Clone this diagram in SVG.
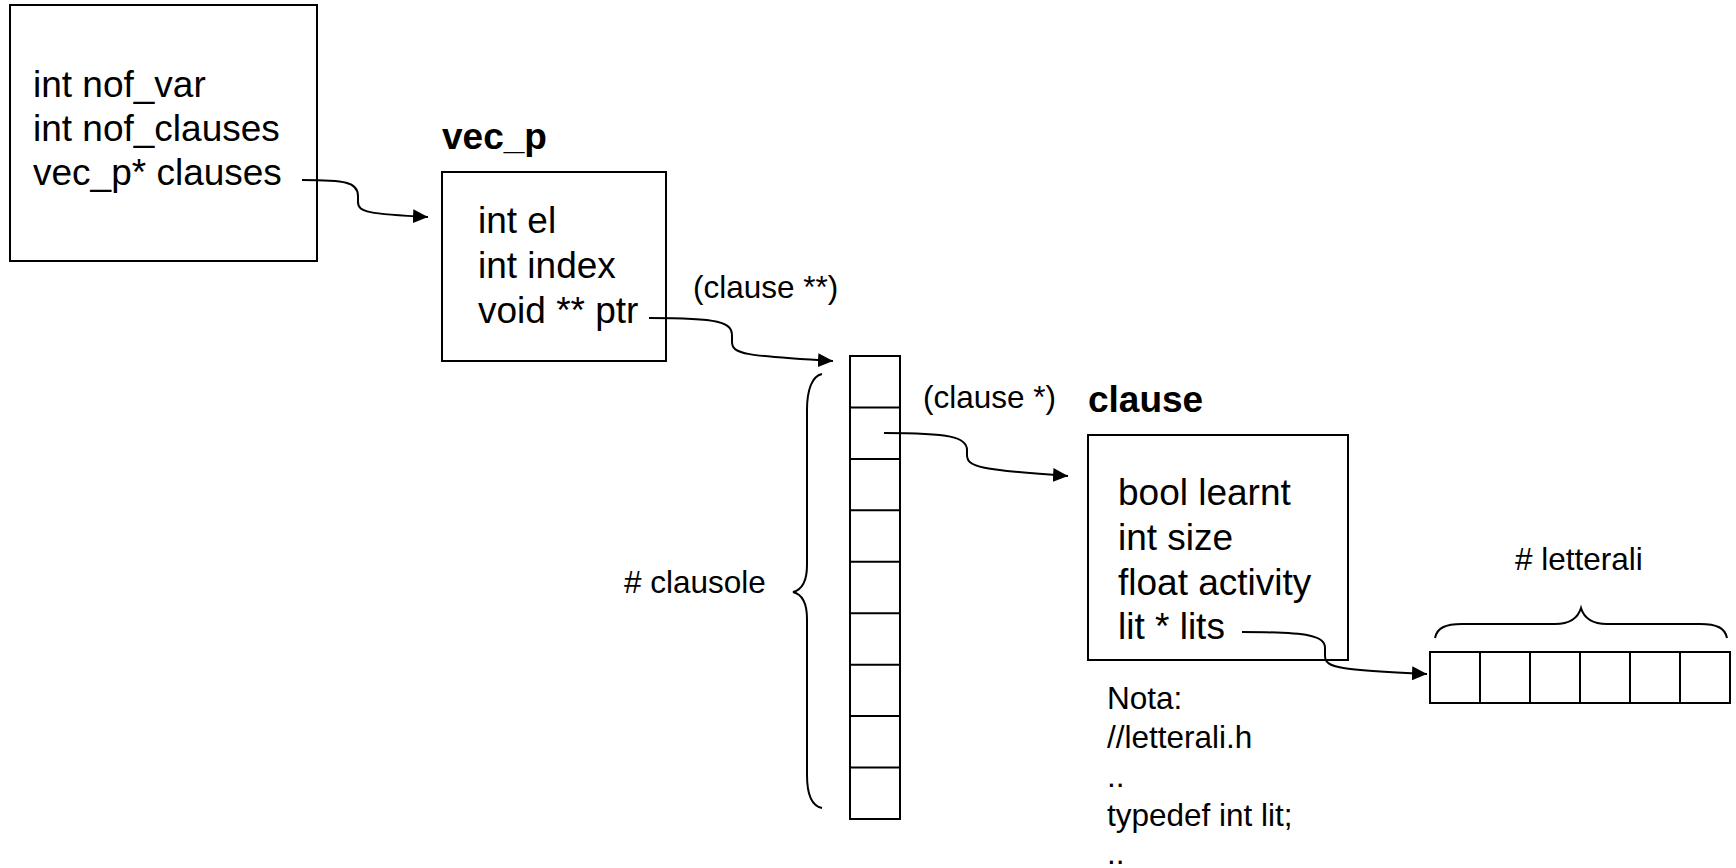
<svg xmlns="http://www.w3.org/2000/svg" width="1736" height="868" viewBox="0 0 1736 868">
<style>
  .box { fill: #fff; stroke: #000; stroke-width: 2; }
  .ln { fill: none; stroke: #000; stroke-width: 2; }
  .t { font-family: "Liberation Sans", Arial, sans-serif; font-size: 37px; fill: #000; }
  .s { font-family: "Liberation Sans", Arial, sans-serif; font-size: 31.5px; fill: #000; }
  .b { font-family: "Liberation Sans", Arial, sans-serif; font-size: 37px; font-weight: bold; fill: #000; }
  .conn { fill: none; stroke: #000; stroke-width: 2; marker-end: url(#ah); }
</style>
<defs>
  <marker id="ah" markerWidth="16" markerHeight="14" refX="15" refY="7" orient="auto" markerUnits="userSpaceOnUse">
    <path d="M0,0 L15,7 L0,14 z" fill="#000"/>
  </marker>
</defs>
<rect width="1736" height="868" fill="#fff"/>

<g id="solver">
  <rect class="box" x="10" y="5" width="307" height="256"/>
  <text class="t" x="33" y="97">int nof_var</text>
  <text class="t" x="33" y="141">int nof_clauses</text>
  <text class="t" x="33" y="185">vec_p* clauses</text>
</g>

<g id="vec_p">
  <text class="b" x="442" y="149">vec_p</text>
  <rect class="box" x="442" y="172" width="224" height="189"/>
  <text class="t" x="478" y="233">int el</text>
  <text class="t" x="478" y="278">int index</text>
  <text class="t" x="478" y="323">void ** ptr</text>
</g>

<g id="clause_ptr_array">
  <rect class="box" x="850" y="356" width="50" height="463"/>
  <path class="ln" d="M850,407.4H900M850,458.9H900M850,510.3H900M850,561.8H900M850,613.2H900M850,664.7H900M850,716.1H900M850,767.6H900"/>
  <path class="ln" d="M822,374 C812,376 807,390 807,410 L807,565 C807,582 801,590 793,592 C801,594 807,602 807,619 L807,775 C807,795 812,806 822,808"/>
  <text class="s" x="624" y="593"># clausole</text>
</g>

<g id="clause">
  <text class="b" x="1088" y="412">clause</text>
  <rect class="box" x="1088" y="435" width="260" height="225"/>
  <text class="t" x="1118" y="505">bool learnt</text>
  <text class="t" x="1118" y="550">int size</text>
  <text class="t" x="1118" y="595">float activity</text>
  <text class="t" x="1118" y="639">lit * lits</text>
</g>

<g id="lits_array">
  <rect class="box" x="1430" y="652" width="300" height="51"/>
  <path class="ln" d="M1480,652V703M1530,652V703M1580,652V703M1630,652V703M1680,652V703"/>
  <path class="ln" d="M1435,638 C1437,628 1445,624 1462,624 L1555,624 C1570,624 1578,618 1581,608 C1584,618 1592,624 1607,624 L1700,624 C1717,624 1725,628 1727,638"/>
  <text class="s" x="1515" y="570"># letterali</text>
</g>

<g id="nota">
  <text class="s" x="1107" y="709">Nota:</text>
  <text class="s" x="1107" y="748">//letterali.h</text>
  <text class="s" x="1107" y="787">..</text>
  <text class="s" x="1107" y="826">typedef int lit;</text>
  <text class="s" x="1107" y="864">..</text>
</g>

<g id="labels">
  <text class="s" x="693" y="298">(clause **)</text>
  <text class="s" x="923" y="408">(clause *)</text>
</g>

<g id="connectors">
  <path class="conn" d="M302,180 C345,180 358,182 358,196 L358,202 C358,212 368,214 428,217"/>
  <path class="conn" d="M649,318 C720,318 732,322 732,336 L732,342 C732,354 745,356 833,361"/>
  <path class="conn" d="M884,433 C950,433 967,437 967,450 L967,455 C967,467 980,470 1068,476"/>
  <path class="conn" d="M1242,632 C1310,632 1325,636 1325,648 L1325,656 C1325,668 1340,670 1427,674"/>
</g>
</svg>
